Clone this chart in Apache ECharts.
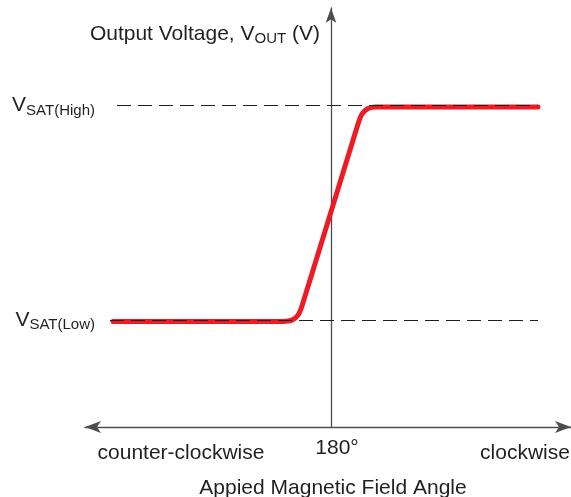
<!DOCTYPE html>
<html>
<head>
<meta charset="utf-8">
<script src="https://cdn.jsdelivr.net/npm/echarts@6/dist/echarts.min.js"></script>
<style>
  html, body { margin: 0; padding: 0; background: #fff; }
  #mycharts { width: 571px; height: 497px; }
</style>
</head>
<body>
<div id="mycharts"></div>
<script>
// x: offset from 180° (arbitrary units), y: output voltage (arbitrary units, 0..100)
var curveX = [-109, -24, -19.5, -16.5, -14.5, 13.5, 15.5, 18.5, 22.5, 103.5];
var curveY = [25.2, 25.2, 25.5, 26.7, 28.9, 72.3, 74.7, 76.0, 76.4, 76.4];

// saturation levels (dashed reference lines)
var satNames = ['High', 'Low'];
var satLevels = [76.7, 25.5];
var satStart = [-107, -110.5];
var satEnd = [103.5, 103.5];

// x axis labels
var xLabelPos = [-75, 3, 97];
var xLabelText = ['counter-clockwise', '180°', 'clockwise'];

var font = 'Liberation Sans, Arial, sans-serif';
var ink = '#231f20';

var mycharts = echarts.init(document.getElementById('mycharts'));

var curveData = curveX.map(function (x, i) { return [x, curveY[i]]; });

var satLines = satLevels.map(function (v, i) {
  return [
    {
      coord: [satStart[i], v],
      label: {
        show: true,
        position: 'start',
        distance: i === 0 ? 22 : 15,
        formatter: '{v|V}{s|SAT(' + satNames[i] + ')}'
      }
    },
    { coord: [satEnd[i], v] }
  ];
});

var subRich = {
  v: { fontSize: 21, fontFamily: font, color: ink },
  s: { fontSize: 15, fontFamily: font, color: ink, padding: [10, 0, 0, 0] }
};

var option = {
  animation: false,
  grid: { left: 85, right: 0, top: 8, bottom: 70, outerBoundsMode: 'none', containLabel: false },
  xAxis: {
    type: 'value',
    min: -123,
    max: 120,
    splitLine: { show: false },
    axisTick: { show: false },
    axisLine: {
      show: true,
      symbol: ['arrow', 'arrow'],
      symbolSize: [9, 16],
      lineStyle: { color: '#4d4d4d', width: 1.3 }
    },
    axisLabel: {
      customValues: xLabelPos,
      margin: 11,
      formatter: function (val) {
        var i = xLabelPos.indexOf(val);
        var t = i >= 0 ? xLabelText[i] : '';
        return i === 1 ? '{m|' + t + '}' : '{s|' + t + '}';
      },
      rich: {
        m: { fontSize: 21, fontFamily: font, color: ink },
        s: { fontSize: 21, fontFamily: font, color: ink, padding: [5, 0, 0, 0] }
      }
    },
    name: 'Appied Magnetic Field Angle',
    nameLocation: 'middle',
    nameGap: 51,
    nameTextStyle: {
      fontSize: 21,
      fontFamily: font,
      color: ink,
      padding: [0, 0, 0, 10]
    }
  },
  yAxis: {
    type: 'value',
    min: 0,
    max: 100,
    splitLine: { show: false },
    axisTick: { show: false },
    axisLabel: { show: false },
    axisLine: {
      show: true,
      onZero: true,
      symbol: ['none', 'arrow'],
      symbolSize: [8, 15],
      lineStyle: { color: '#4d4d4d', width: 1.3 }
    },
    name: '{v|Output Voltage, V}{s|OUT}{v| (V)}',
    nameLocation: 'end',
    nameGap: -26,
    nameTextStyle: {
      align: 'right',
      verticalAlign: 'middle',
      padding: [0, 11, 0, 0],
      rich: subRich
    }
  },
  series: [
    {
      name: 'VOUT',
      type: 'line',
      data: curveData,
      showSymbol: false,
      smooth: 0.25,
      z: 2,
      lineStyle: { color: '#ed1c24', width: 5, cap: 'round', join: 'round' }
    },
    {
      name: 'VSAT',
      type: 'line',
      data: [],
      z: 3,
      markLine: {
        silent: true,
        symbol: ['none', 'none'],
        animation: false,
        lineStyle: { color: ink, width: 1, type: [14, 7] },
        label: { rich: subRich },
        data: satLines
      }
    }
  ]
};

mycharts.setOption(option);
</script>
</body>
</html>
